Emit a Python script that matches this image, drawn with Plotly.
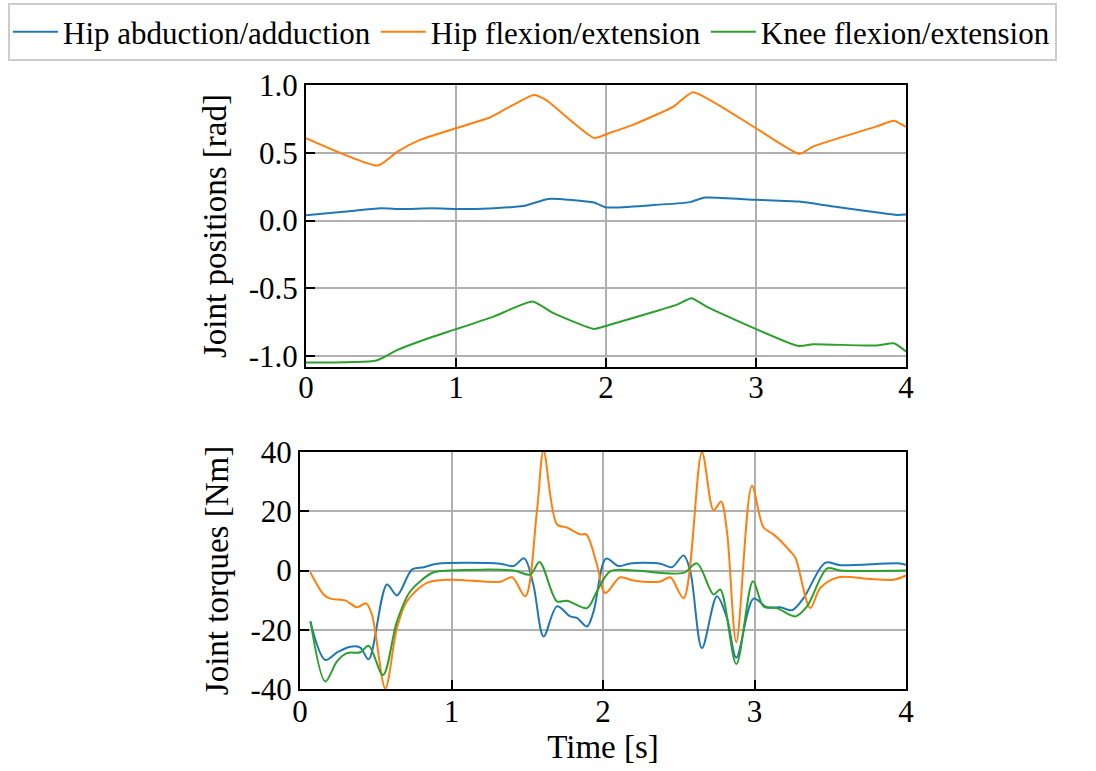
import plotly.graph_objects as go

# ---------------- data ----------------
series_names = ["Hip abduction/adduction", "Hip flexion/extension", "Knee flexion/extension"]
series_colors = ["#1f77b4", "#ff7f0e", "#2ca02c"]

# Joint positions [rad]
pos_abd_t = [0, 0.25, 0.5, 0.63, 0.84, 1.1, 1.45, 1.617, 1.92, 2.0, 2.3, 2.56, 2.66, 3.0, 3.29, 3.52, 3.94, 4.0]
pos_abd_v = [0.04, 0.065, 0.09, 0.085, 0.09, 0.085, 0.107, 0.16, 0.133, 0.097, 0.113, 0.136, 0.17, 0.153, 0.14, 0.103, 0.042, 0.045]

pos_flex_t = [0, 0.48, 0.61, 0.76, 1.0, 1.23, 1.3, 1.52, 1.6, 1.92, 2.03, 2.18, 2.45, 2.58, 3.0, 3.29, 3.38, 3.8, 3.92, 4.0]
pos_flex_v = [0.608, 0.406, 0.509, 0.595, 0.681, 0.762, 0.804, 0.927, 0.89, 0.61, 0.649, 0.706, 0.841, 0.947, 0.681, 0.492, 0.546, 0.693, 0.737, 0.69]

pos_knee_t = [0, 0.47, 0.61, 0.85, 1.0, 1.25, 1.51, 1.65, 1.92, 2.02, 2.36, 2.47, 2.57, 2.67, 3.28, 3.38, 3.8, 3.92, 4.0]
pos_knee_v = [-1.047, -1.032, -0.954, -0.855, -0.801, -0.708, -0.597, -0.683, -0.799, -0.77, -0.659, -0.622, -0.572, -0.634, -0.924, -0.912, -0.922, -0.905, -0.966]

# Joint torques [Nm]
tq_abd_t = [0.068, 0.167, 0.25, 0.332, 0.398, 0.453, 0.574, 0.64, 0.739, 0.816, 0.904, 1.322, 1.41, 1.48, 1.54,
            1.608, 1.696, 1.784, 1.828, 1.894, 1.938, 2.02, 2.103, 2.18, 2.378, 2.455, 2.532, 2.576, 2.653,
            2.752, 2.818, 2.88, 2.994, 3.082, 3.17, 3.248, 3.324, 3.467, 3.566, 3.962, 4.0]
tq_abd_v = [-17.2, -30.2, -27.5, -25.7, -26.0, -30.0, -4.7, -8.4, 0.3, 1.1, 2.3, 2.3, 1.5, 4.1, -4.7,
            -22.3, -12.1, -15.5, -16.0, -18.9, -13.8, 4.0, 1.5, 2.4, 2.3, 1.1, 5.1, -0.2, -26.2,
            -8.7, -16.0, -29.4, -9.5, -12.4, -12.4, -13.4, -9.3, 2.6, 1.8, 2.4, 1.9]

tq_flex_t = [0.068, 0.156, 0.2, 0.299, 0.376, 0.436, 0.475, 0.563, 0.64, 0.706, 0.838, 0.992, 1.322, 1.4, 1.487,
             1.564, 1.608, 1.696, 1.762, 1.85, 1.89, 1.96, 2.015, 2.114, 2.202, 2.378, 2.444, 2.532, 2.653,
             2.73, 2.779, 2.818, 2.88, 2.983, 3.06, 3.126, 3.236, 3.27, 3.368, 3.434, 3.555, 3.742, 3.918, 4.0]
tq_flex_v = [-0.6, -8.1, -9.5, -10.1, -12.4, -11.1, -14.9, -39.8, -19.4, -10.4, -4.2, -3.1, -3.8, -2.3, -8.7,
             20.1, 40.4, 15.6, 14.5, 12.2, 12.2, 2.0, -7.6, -2.3, -3.4, -3.7, -2.3, -9.3, 39.9,
             20.3, 23.3, 13.3, -24.2, 28.6, 14.5, 12.2, 6.5, 4.3, -12.7, -5.9, -2.3, -2.8, -3.1, -1.7]

tq_knee_t = [0.07, 0.167, 0.244, 0.31, 0.398, 0.453, 0.548, 0.64, 0.728, 0.882, 0.992, 1.41, 1.52, 1.581, 1.696,
             1.762, 1.894, 1.96, 2.048, 2.2, 2.532, 2.62, 2.73, 2.774, 2.88, 2.99, 3.06, 3.148, 3.27, 3.347,
             3.48, 3.566, 4.0]
tq_knee_v = [-17.2, -37.5, -30.7, -27.9, -27.6, -25.4, -35.3, -17.2, -7.0, -0.6, 0.0, 0.0, -1.4, 2.9, -10.4,
             -10.2, -12.7, -7.0, -0.3, 0.0, -0.8, 2.4, -8.1, -6.4, -31.6, -3.6, -12.1, -12.7, -15.5, -12.1,
             0.7, 0.0, 0.0]

x_ticks = [0, 1, 2, 3, 4]
x_ticktext = ["0", "1", "2", "3", "4"]
pos_ticks = [-1.0, -0.5, 0.0, 0.5, 1.0]
pos_ticktext = ["-1.0", "-0.5", "0.0", "0.5", "1.0"]
tq_ticks = [-40, -20, 0, 20, 40]
tq_ticktext = ["-40", "-20", "0", "20", "40"]

# ---------------- figure ----------------
FONT = "Liberation Serif"
W, H = 1096, 771

fig = go.Figure()

pos_data = [(pos_abd_t, pos_abd_v), (pos_flex_t, pos_flex_v), (pos_knee_t, pos_knee_v)]
tq_data = [(tq_abd_t, tq_abd_v), (tq_flex_t, tq_flex_v), (tq_knee_t, tq_knee_v)]

for i, (t, v) in enumerate(pos_data):
    fig.add_trace(go.Scatter(x=t, y=v, mode="lines", name=series_names[i],
                             line=dict(color=series_colors[i], width=2, shape="spline", smoothing=0.5),
                             xaxis="x", yaxis="y", legendgroup=str(i), showlegend=True))
for i, (t, v) in enumerate(tq_data):
    fig.add_trace(go.Scatter(x=t, y=v, mode="lines", name=series_names[i],
                             line=dict(color=series_colors[i], width=2, shape="spline", smoothing=0.9),
                             xaxis="x2", yaxis="y2", legendgroup=str(i), showlegend=False))

axis_common = dict(
    showline=True, linecolor="black", linewidth=2, mirror=True,
    ticks="inside", ticklen=9, tickwidth=2, tickcolor="black",
    showgrid=True, gridcolor="#b0b0b0", gridwidth=2,
    zeroline=False, automargin=False,
    tickfont=dict(family=FONT, size=31, color="black"),
)
title_font = dict(family=FONT, size=33, color="black")

fig.update_layout(
    width=W, height=H,
    margin=dict(l=0, r=0, t=0, b=0),
    paper_bgcolor="white", plot_bgcolor="white",
    font=dict(family=FONT, size=30, color="black"),
    showlegend=True,
    legend=dict(orientation="h", x=8 / W, y=1 - 3 / H, xanchor="left", yanchor="top",
                bordercolor="#cccccc", borderwidth=2, bgcolor="white",
                font=dict(family=FONT, size=31, color="black"),
                itemwidth=45, tracegroupgap=0),
    xaxis=dict(domain=[306 / W, 906 / W], range=[0, 4], tickvals=x_ticks, ticktext=x_ticktext,
               anchor="y", ticklabelstandoff=-8, **axis_common),
    yaxis=dict(domain=[(H - 367) / H, (H - 85) / H], range=[-1.08, 1.0], tickvals=pos_ticks,
               ticktext=pos_ticktext, anchor="x",
               title=dict(text="Joint positions [rad]", standoff=12, font=title_font),
               **axis_common),
    xaxis2=dict(domain=[300 / W, 906 / W], range=[0, 4], tickvals=x_ticks, ticktext=x_ticktext,
                anchor="y2", ticklabelstandoff=-6,
                title=dict(text="Time [s]", standoff=6, font=title_font),
                **axis_common),
    yaxis2=dict(domain=[(H - 689) / H, (H - 452) / H], range=[-40, 40], tickvals=tq_ticks,
                ticktext=tq_ticktext, anchor="x2",
                title=dict(text="Joint torques [Nm]", standoff=12, font=title_font),
                **axis_common),
)

fig.write_html("out.html")
